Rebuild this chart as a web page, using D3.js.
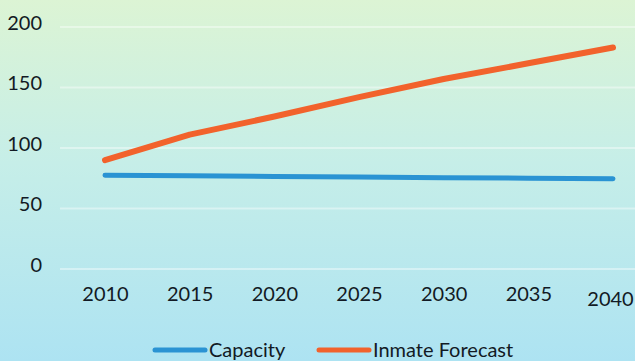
<!DOCTYPE html>
<html>
<head>
<meta charset="utf-8">
<script src="https://cdn.jsdelivr.net/npm/d3@7/dist/d3.min.js"></script>
<style>
  body { margin: 0; overflow: hidden; }
  text { font-family: Lato, "Open Sans", sans-serif; fill: #121a24; }
</style>
</head>
<body>
<div id="chart"></div>
<script>
const years = [2010, 2015, 2020, 2025, 2030, 2035, 2040];
const capacity = [77.5, 77, 76.5, 76, 75.5, 75, 74.5];
const inmateForecast = [90, 111, 126, 142, 157, 170, 183];
const yTicks = [0, 50, 100, 150, 200];
const seriesNames = ["Capacity", "Inmate Forecast"];
const seriesColors = ["#2a93d3", "#f2622c"];

const width = 635, height = 361;

const svg = d3.select("#chart").append("svg")
    .attr("width", width)
    .attr("height", height);

// background gradient, green top to light blue bottom
const grad = svg.append("defs").append("linearGradient")
    .attr("id", "bg").attr("x1", 0).attr("y1", 0).attr("x2", 0).attr("y2", 1);
grad.append("stop").attr("offset", "0%").attr("stop-color", "#dcf4d4");
grad.append("stop").attr("offset", "45%").attr("stop-color", "#c6eee8");
grad.append("stop").attr("offset", "100%").attr("stop-color", "#ade3f2");
svg.append("rect").attr("width", width).attr("height", height).attr("fill", "url(#bg)");

const x = d3.scalePoint().domain(years).range([105, 613]);
const y = d3.scaleLinear().domain([0, 200]).range([269, 27]);

// faint gridlines
svg.append("g")
    .selectAll("line")
    .data(yTicks)
    .join("line")
    .attr("x1", 60).attr("x2", width)
    .attr("y1", d => y(d)).attr("y2", d => y(d))
    .attr("stroke", "#ffffff")
    .attr("stroke-opacity", 0.4)
    .attr("stroke-width", 2);

// y axis
const yAxis = svg.append("g")
    .attr("transform", "translate(42,0)")
    .call(d3.axisLeft(y).tickValues(yTicks).tickSize(0).tickPadding(0));
yAxis.select(".domain").remove();
yAxis.selectAll("text")
    .attr("dy", "0.1em")
    .style("font-size", "20px")
    .attr("fill", "#121a24");

// x axis (last label sits a little lower and tucked in at the edge, as in the original)
const last = years.length - 1;
const xAxis = svg.append("g")
    .attr("transform", "translate(0,286)")
    .call(d3.axisBottom(x).tickSize(0).tickPadding(0));
xAxis.select(".domain").remove();
xAxis.selectAll("text")
    .attr("dy", (d, i) => i === last ? "1em" : "0.75em")
    .attr("dx", (d, i) => i === last ? -3 : 0)
    .style("font-size", "20px")
    .attr("fill", "#121a24");

// lines
const line = d3.line()
    .x((d, i) => x(years[i]))
    .y(d => y(d));

[capacity, inmateForecast].forEach((vals, i) => {
    svg.append("path")
        .datum(vals)
        .attr("fill", "none")
        .attr("stroke", seriesColors[i])
        .attr("stroke-width", i === 0 ? 5 : 6)
        .attr("stroke-linecap", "round")
        .attr("stroke-linejoin", "round")
        .attr("d", line);
});

// legend
const legendX = [155, 319];
seriesNames.forEach((name, i) => {
    const g = svg.append("g").attr("transform", `translate(${legendX[i]},350)`);
    g.append("line")
        .attr("x1", 0).attr("x2", 50)
        .attr("stroke", seriesColors[i])
        .attr("stroke-width", 5)
        .attr("stroke-linecap", "round");
    g.append("text")
        .attr("x", 54)
        .attr("dy", "0.36em")
        .style("font-size", "20px")
        .text(name);
});
</script>
</body>
</html>
